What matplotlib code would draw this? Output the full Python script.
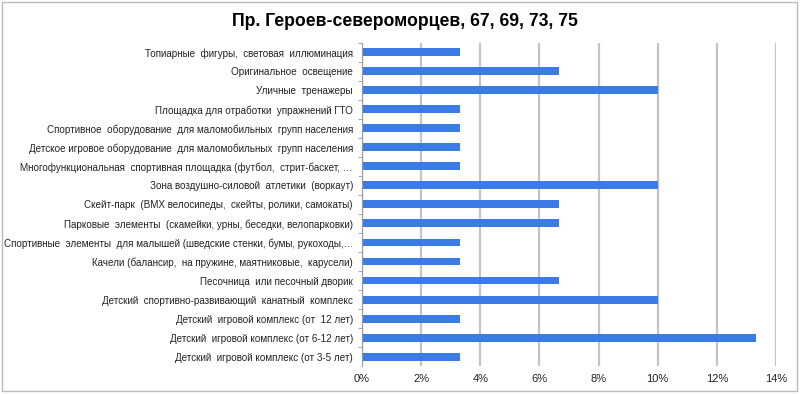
import matplotlib.pyplot as plt
from matplotlib.patches import Rectangle
from matplotlib.ticker import FuncFormatter, MultipleLocator

plt.rcParams['font.family'] = ['Liberation Sans', 'DejaVu Sans']

# Данные (сверху вниз)
categories = [
    'Топиарные  фигуры,  световая  иллюминация',
    'Оригинальное  освещение',
    'Уличные  тренажеры',
    'Площадка для отработки  упражнений ГТО',
    'Спортивное  оборудование  для маломобильных  групп населения',
    'Детское игровое оборудование  для маломобильных  групп населения',
    'Многофункциональная  спортивная площадка (футбол,  стрит-баскет, …',
    'Зона воздушно-силовой  атлетики  (воркаут)',
    'Скейт-парк  (BMX велосипеды,  скейты, ролики, самокаты)',
    'Парковые  элементы  (скамейки, урны, беседки, велопарковки)',
    'Спортивные  элементы  для малышей (шведские стенки, бумы, рукоходы,…',
    'Качели (балансир,  на пружине, маятниковые,  карусели)',
    'Песочница  или песочный дворик',
    'Детский  спортивно-развивающий  канатный  комплекс',
    'Детский  игровой комплекс (от  12 лет)',
    'Детский  игровой комплекс (от 6-12 лет)',
    'Детский  игровой комплекс (от 3-5 лет)',
]
values = [3.33, 6.67, 10.0, 3.33, 3.33, 3.33, 3.33, 10.0, 6.67,
          6.67, 3.33, 3.33, 6.67, 10.0, 3.33, 13.33, 3.33]

fig = plt.figure(figsize=(8, 3.94), dpi=100)
ax = fig.add_axes([0.4525, 0.071, 0.5175, 0.82])

pos = list(range(len(categories)))
ax.barh(pos, values, height=0.42, color='#3b7be6', zorder=3)

ax.set_ylim(len(categories) - 0.5, -0.5)
ax.set_xlim(0, 14)
ax.set_yticks(pos)
ax.set_yticklabels(categories, fontsize=7.1, color='#222222')
ax.tick_params(axis='y', which='major', length=0, pad=6.5)
ax.set_yticks([p + 0.5 for p in pos[:-1]] + [-0.5], minor=True)
ax.tick_params(axis='y', which='minor', length=3, color='#999999', direction='out')

ax.xaxis.set_major_locator(MultipleLocator(2))
ax.xaxis.set_major_formatter(FuncFormatter(lambda v, p: f'{v:.0f}%'))
ax.tick_params(axis='x', length=0, labelsize=8, colors='#222222', pad=6)
ax.grid(axis='x', color='#c4c4c4', linewidth=1.6, zorder=0)

for s in ['top', 'right', 'bottom']:
    ax.spines[s].set_visible(False)
ax.spines['left'].set_color('#999999')
ax.spines['left'].set_zorder(4)

fig.text(0.506, 0.945, 'Пр. Героев-североморцев, 67, 69, 73, 75',
         ha='center', va='center', fontsize=12.7, fontweight='bold')

# рамка вокруг диаграммы
fig.patches.append(Rectangle((0.002, 0.008), 0.994, 0.988, transform=fig.transFigure,
                             fill=False, edgecolor='#bbbbbb', linewidth=1))

plt.savefig('out.png', dpi=100)
